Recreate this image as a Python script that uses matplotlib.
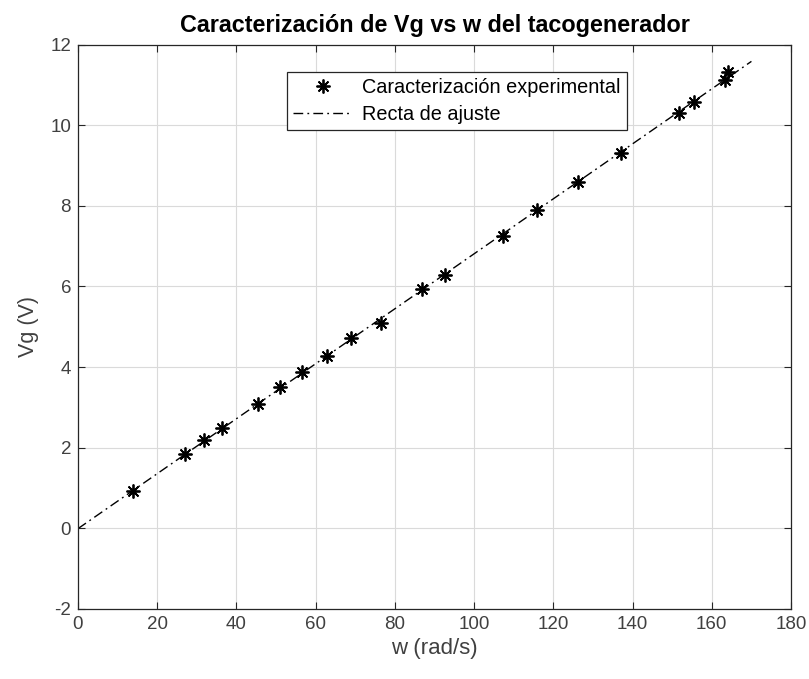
import numpy as np
import matplotlib.pyplot as plt

plt.rcParams['font.family'] = ['Liberation Sans', 'DejaVu Sans']
plt.rcParams['axes.unicode_minus'] = False

# velocidad angular (rad/s) y tension del tacogenerador (V)
w = [13.8, 27.0, 31.9, 36.4, 45.4, 50.9, 56.6, 62.8, 68.9, 76.4,
     86.9, 92.7, 107.2, 115.9, 126.3, 137.1, 151.7, 155.6, 163.4, 164.1]
vg = [0.93, 1.84, 2.19, 2.49, 3.09, 3.50, 3.88, 4.28, 4.72, 5.09,
      5.93, 6.28, 7.26, 7.89, 8.59, 9.31, 10.31, 10.59, 11.12, 11.33]

b, c = np.polyfit(w, vg, 1)
w_fit = np.linspace(0, 170, 50)
vg_fit = np.polyval([b, c], w_fit)

fig = plt.figure(figsize=(8.09, 6.79), dpi=100)
ax = fig.add_axes([0.0964, 0.1032, 0.8814, 0.8310])

gray = '#262626'
ax.plot(w, vg, linestyle='none', marker=(8, 2, 0), color='k', markersize=10,
        markeredgewidth=1.3, label='Caracterización experimental')
ax.plot(w_fit, vg_fit, color='k', linewidth=1.0, dashes=(7, 3, 1.3, 3),
        label='Recta de ajuste')

ax.set_xlim(0, 180)
ax.set_ylim(-2, 12)
ax.set_xticks(np.arange(0, 181, 20))
ax.set_yticks(np.arange(-2, 13, 2))
ax.grid(True, color='#dadada', linewidth=0.8)
ax.set_axisbelow(True)
ax.tick_params(direction='in', top=True, right=True, colors=gray, labelsize=13.5,
               length=5, pad=5)
for lbl in ax.get_xticklabels() + ax.get_yticklabels():
    lbl.set_color('#404040')
for s in ax.spines.values():
    s.set_color(gray)
    s.set_linewidth(0.9)

ax.set_xlabel('w (rad/s)', fontsize=16, color='#404040', labelpad=4)
ax.set_ylabel('Vg (V)', fontsize=15.5, color='#404040', labelpad=8)
ax.set_title('Caracterización de Vg vs w del tacogenerador', fontsize=16.8,
             fontweight='bold', color='k', pad=9)

leg = ax.legend(loc='upper left', bbox_to_anchor=(0.293, 0.952), fontsize=14.3,
                fancybox=False, framealpha=1, edgecolor=gray,
                borderpad=0.3, labelspacing=0.4, handlelength=3.0,
                handletextpad=0.5, borderaxespad=0)
leg.get_frame().set_linewidth(0.9)
for t in leg.get_texts():
    t.set_color('k')

fig.savefig('out.png', dpi=100)
